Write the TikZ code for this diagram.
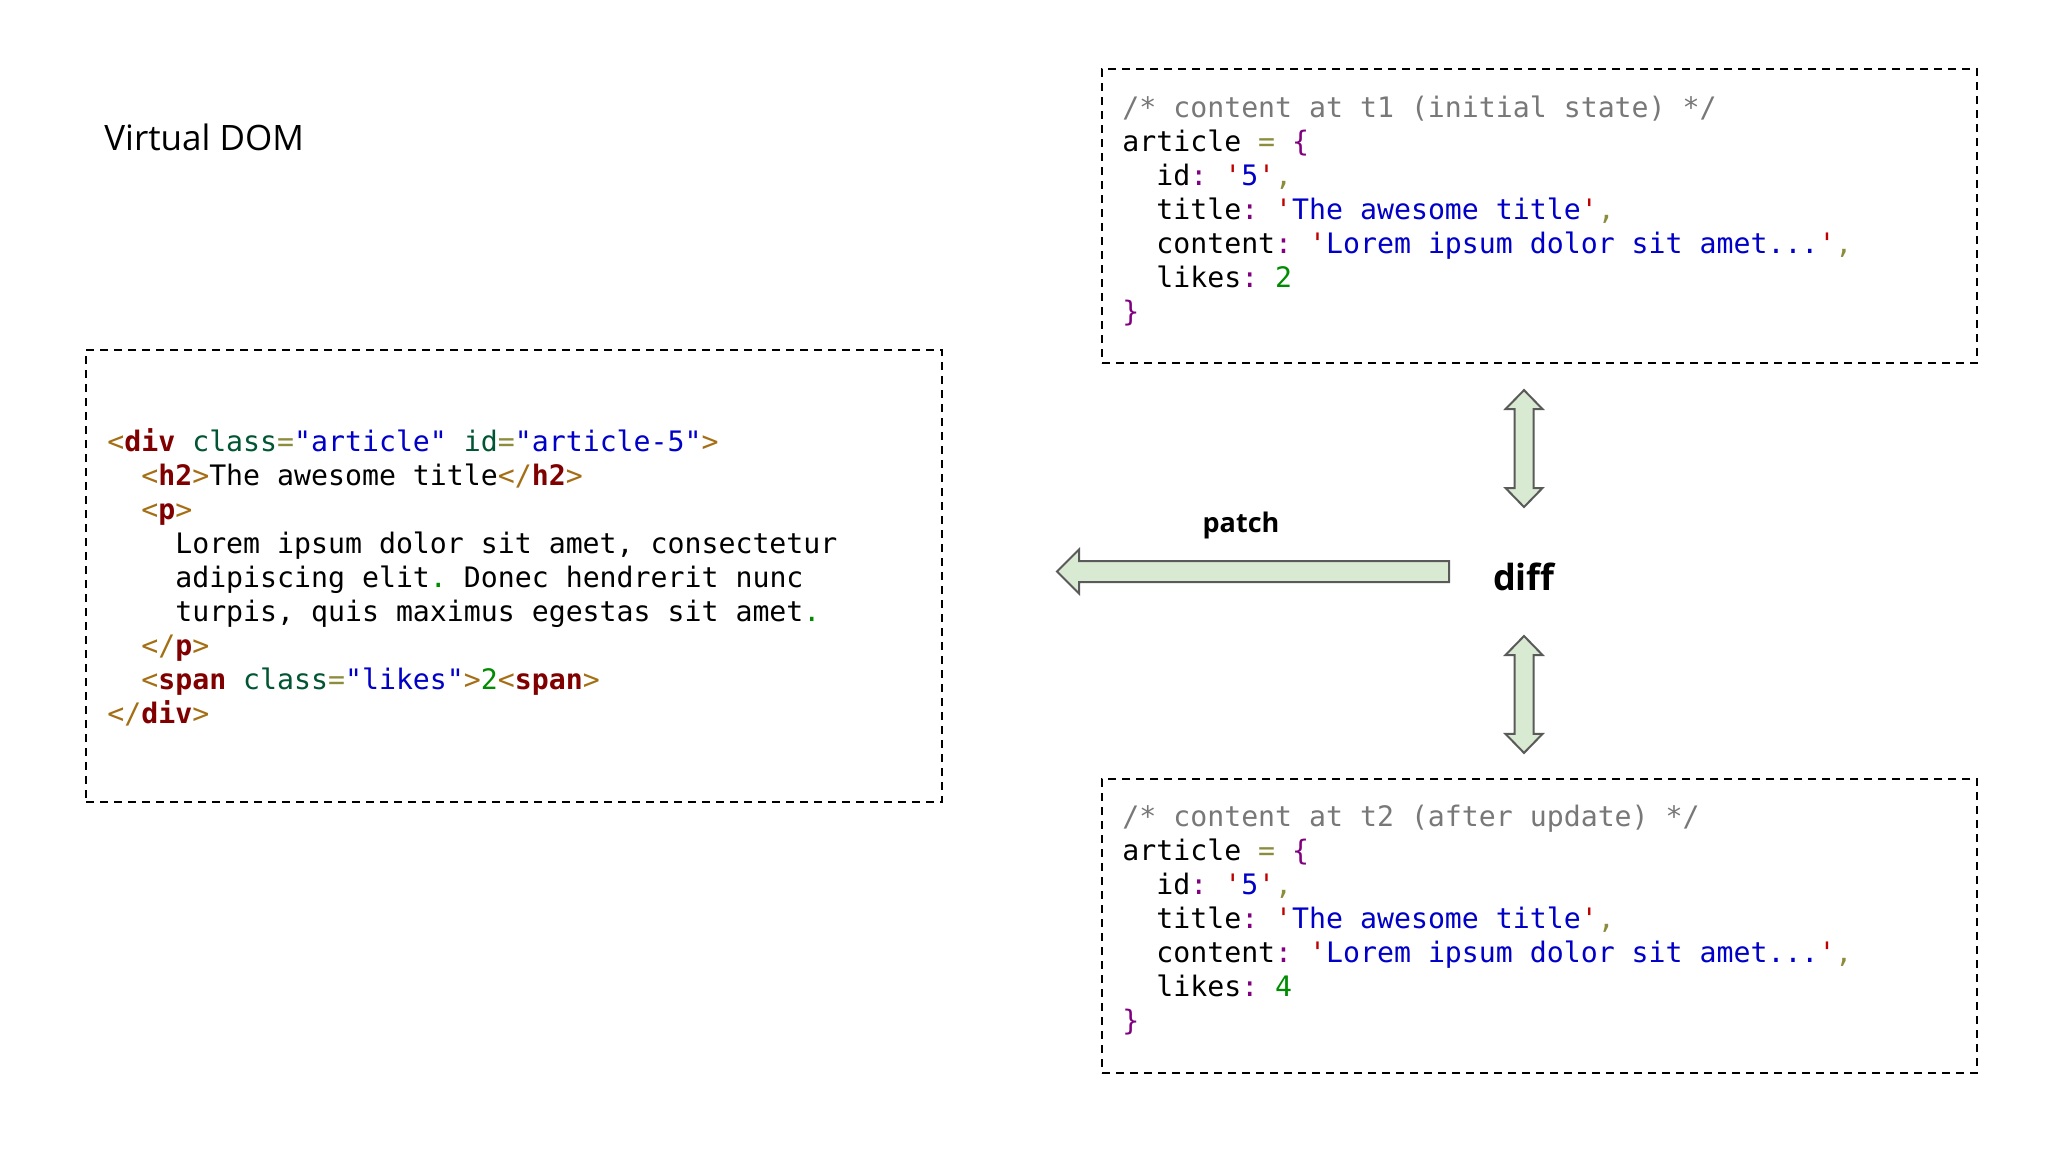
\documentclass[tikz,border=0pt]{standalone}
\usepackage{fontspec}
\setsansfont{Open Sans}
\setmonofont{DejaVu Sans Mono}
\usepackage{tikz}
\usetikzlibrary{positioning,calc,fit}

\definecolor{cmtgray}{RGB}{120,120,120}
\definecolor{olivec}{RGB}{140,140,60}
\definecolor{purplec}{RGB}{128,0,128}
\definecolor{quotec}{RGB}{190,0,0}
\definecolor{strc}{RGB}{0,0,200}
\definecolor{numc}{RGB}{0,140,0}
\definecolor{tagc}{RGB}{128,0,0}
\definecolor{brkc}{RGB}{165,110,20}
\definecolor{attc}{RGB}{0,85,50}
\definecolor{arrowfill}{RGB}{217,234,211}
\definecolor{arrowline}{RGB}{90,90,90}

\newcommand{\hlcmt}[1]{\textcolor{cmtgray}{#1}}
\newcommand{\hlolv}[1]{\textcolor{olivec}{#1}}
\newcommand{\hlpur}[1]{\textcolor{purplec}{#1}}
\newcommand{\hlqt}[1]{\textcolor{quotec}{#1}}
\newcommand{\hlstr}[1]{\textcolor{strc}{#1}}
\newcommand{\hlnum}[1]{\textcolor{numc}{#1}}
\newcommand{\hltag}[1]{\textcolor{tagc}{\textbf{#1}}}
\newcommand{\hlbrk}[1]{\textcolor{brkc}{#1}}
\newcommand{\hlatt}[1]{\textcolor{attc}{#1}}

\tikzset{
  codebox/.style={draw, dash pattern=on 4pt off 3pt, line width=1.1pt, inner sep=0pt},
  code/.style={font=\ttfamily\fontsize{14.1}{17}\selectfont, align=left, inner sep=0pt, anchor=base west},
  fatarrow/.style={draw=arrowline, fill=arrowfill, line width=1pt, line join=miter},
}

% horizontal fat arrow: tail #1, tip #2 (pointing left)
\newcommand{\harrow}[2]{
\draw[fatarrow] let \p1=(#1), \p2=(#2) in (\x1,\y1+5.25pt) -- (\x2+11pt,\y1+5.25pt) -- (\x2+11pt,\y1+11pt) -- (\x2,\y1)
  -- (\x2+11pt,\y1-11pt) -- (\x2+11pt,\y1-5.25pt) -- (\x1,\y1-5.25pt) -- cycle;
}
% vertical double fat arrow: top tip #1, bottom tip #2
\newcommand{\vdarrow}[2]{
\draw[fatarrow] let \p1=(#1), \p2=(#2) in (\x1,\y1) -- (\x1+9.25pt,\y1-9.5pt) -- (\x1+4.75pt,\y1-9.5pt) -- (\x1+4.75pt,\y2+9.5pt)
  -- (\x1+9.25pt,\y2+9.5pt) -- (\x1,\y2) -- (\x1-9.25pt,\y2+9.5pt) -- (\x1-4.75pt,\y2+9.5pt) -- (\x1-4.75pt,\y1-9.5pt)
  -- (\x1-9.25pt,\y1-9.5pt) -- cycle;
}

\begin{document}
\begin{tikzpicture}[x=0.5pt, y=-0.5pt]
\fill[white] (0,0) rectangle (2048,1152);
\useasboundingbox (0,0) rectangle (2048,1152);

\node[anchor=base west, inner sep=0pt, font=\sffamily\fontsize{17.5}{20}\selectfont] (title) at (104,150) {Virtual DOM};

% the three code boxes
\node[codebox, fit={(86,350) (942,802)}] (vdom) {};
\node[codebox, fit={(1102,69) (1977,363)}] (t1) {};
\node[codebox, fit={(1102,779) (1977,1073)}] (t2) {};

% base of a multi-line node = baseline of its last line
\node[code] (vdomtxt) at (107,723) {\hlbrk{<}\hltag{div} \hlatt{class}\hlolv{=}\hlstr{"article"} \hlatt{id}\hlolv{=}\hlstr{"article-5"}\hlbrk{>}\\
\phantom{xx}\hlbrk{<}\hltag{h2}\hlbrk{>}The awesome title\hlbrk{</}\hltag{h2}\hlbrk{>}\\
\phantom{xx}\hlbrk{<}\hltag{p}\hlbrk{>}\\
\phantom{xxxx}Lorem ipsum dolor sit amet, consectetur\\
\phantom{xxxx}adipiscing elit\hlnum{.} Donec hendrerit nunc\\
\phantom{xxxx}turpis, quis maximus egestas sit amet\hlnum{.}\\
\phantom{xx}\hlbrk{</}\hltag{p}\hlbrk{>}\\
\phantom{xx}\hlbrk{<}\hltag{span} \hlatt{class}\hlolv{=}\hlstr{"likes"}\hlbrk{>}\hlnum{2}\hlbrk{<}\hltag{span}\hlbrk{>}\\
\hlbrk{</}\hltag{div}\hlbrk{>}};

\foreach \name/\y/\when/\likes in {t1txt/321/t1 (initial state)/2, t2txt/1030/t2 (after update)/4} {
\node[code] (\name) at (1122,\y) {\hlcmt{/* content at \when{} */}\\
article \hlolv{=} \hlpur{\{}\\
\phantom{xx}id\hlpur{:} \hlqt{'}\hlstr{5}\hlqt{'}\hlolv{,}\\
\phantom{xx}title\hlpur{:} \hlqt{'}\hlstr{The awesome title}\hlqt{'}\hlolv{,}\\
\phantom{xx}content\hlpur{:} \hlqt{'}\hlstr{Lorem ipsum dolor sit amet...}\hlqt{'}\hlolv{,}\\
\phantom{xx}likes\hlpur{:} \hlnum{\likes}\\
\hlpur{\}}};
}

\node[anchor=base, inner sep=0pt, font=\sffamily\bfseries\fontsize{18}{20}\selectfont] (diff) at (1524,590) {diff};
\node[anchor=base, inner sep=0pt, font=\sffamily\bfseries\fontsize{13.5}{16}\selectfont] (patch) at (1241,532) {patch};

% arrows
\coordinate (patchtail) at (1449,571.5);
\coordinate (patchtip) at (1057,571.5);
\harrow{patchtail}{patchtip}

\coordinate (upa) at ($(t1.south -| diff)+(0,26)$);
\coordinate (upb) at (diff |- 0,507);
\coordinate (lowa) at (diff |- 0,636);
\coordinate (lowb) at ($(t2.north -| diff)+(0,-25)$);
\vdarrow{upa}{upb}
\vdarrow{lowa}{lowb}
\end{tikzpicture}
\end{document}
